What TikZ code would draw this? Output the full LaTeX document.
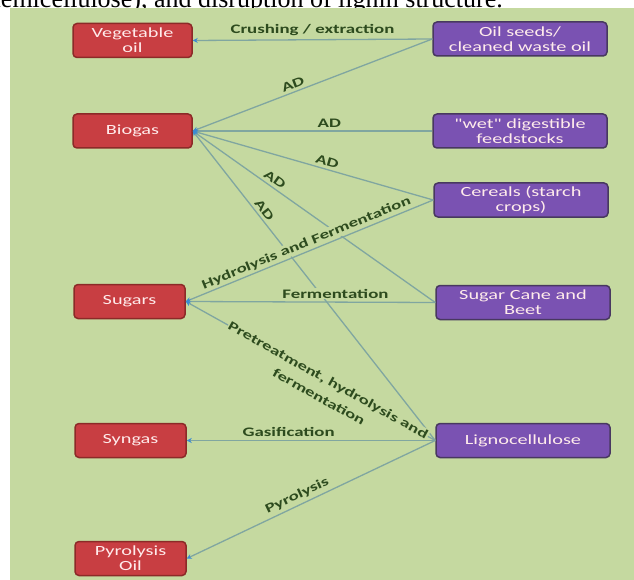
\documentclass[tikz,border=0pt]{standalone}
\usepackage{fontspec}
\setmainfont{Carlito}
\newfontfamily\widesans[FakeStretch=1.45]{Carlito}
\newfontfamily\papertext{Liberation Serif}
\usetikzlibrary{arrows.meta}

\definecolor{panelgreen}{RGB}{197,217,160}
\definecolor{prodred}{RGB}{200,62,66}
\definecolor{prodedge}{RGB}{140,42,40}
\definecolor{feedpurple}{RGB}{122,82,178}
\definecolor{feededge}{RGB}{72,56,96}
\definecolor{routeline}{RGB}{128,166,160}
\definecolor{routetext}{RGB}{45,75,30}
\definecolor{tipblue}{RGB}{60,140,210}

\begin{document}
\begin{tikzpicture}[x=1pt,y=-1pt,
  product/.style={draw=prodedge, line width=1.5pt, fill=prodred, rounded corners=4pt,
    text=white!92!red, font=\widesans\fontsize{14}{15}\selectfont, align=center,
    minimum height=34pt, inner sep=1pt},
  feed/.style={product, draw=feededge, fill=feedpurple, minimum width=174pt},
  route/.style={draw=routeline, line width=1.3pt, -{Stealth[length=5pt,width=5pt,color=tipblue]}},
  routelabel/.style={text=routetext, font=\widesans\fontsize{13}{16}\selectfont\bfseries,
    fill=panelgreen, inner sep=1pt, align=center}]
\useasboundingbox (0,0) rectangle (634,580);
% text of the page above the figure
\node[anchor=base east, inner sep=0pt, font=\papertext\fontsize{26}{28}\selectfont] (caption) at (503,7.5)
  {hemicellulose), and disruption of lignin structure.};
\fill[panelgreen] (10,8.5) rectangle (634,580);
% products
\node[product, minimum width=119pt] (vegoil) at (132.5,40.5) {Vegetable\\oil};
\node[product, minimum width=119pt] (biogas) at (132.5,131) {Biogas};
\node[product, minimum width=111pt] (sugars) at (129.5,301.5) {Sugars};
\node[product, minimum width=111pt] (syngas) at (130.5,440.5) {Syngas};
\node[product, minimum width=111pt] (pyroil) at (130.5,558.5) {Pyrolysis\\Oil};
% feedstocks
\node[feed] (oilseeds) at (520,39) {Oil seeds/\\cleaned waste oil};
\node[feed] (wetstock) at (520,131) {"wet" digestible\\feedstocks};
\node[feed] (cereals) at (521,200) {Cereals (starch\\crops)};
\node[feed] (cane) at (523,302.5) {Sugar Cane and\\Beet};
\node[feed] (ligno) at (523,440.5) {Lignocellulose};
% routes
\draw[route] (oilseeds.west) -- node[routelabel, above=2pt, pos=0.5] {Crushing / extraction} (vegoil.east);
\draw[route] (oilseeds.west) -- node[routelabel, sloped, above=2pt, pos=0.57] {AD} (biogas.east);
\draw[route] (wetstock.west) -- node[routelabel, above=2pt, pos=0.43] {AD} (biogas.east);
\draw[route] (cereals.west) -- node[routelabel, sloped, above=2pt, pos=0.45] {AD} (biogas.east);
\draw[route] (cane.west) -- node[routelabel, sloped, above=2pt, pos=0.68] {AD} (biogas.east);
\draw[route] (ligno.west) -- node[routelabel, sloped, above=2pt, pos=0.73] {AD} (biogas.east);
\draw[route] (cereals.west) -- node[routelabel, sloped, above=1pt, pos=0.5] {Hydrolysis and Fermentation} (sugars.east);
\draw[route] (cane.west) -- node[routelabel, above=2pt, pos=0.4] {Fermentation} (sugars.east);
\draw[route] (ligno.west) -- node[routelabel, sloped, below=-7pt, pos=0.43,
  font=\widesans\fontsize{13}{19}\selectfont\bfseries] {Pretreatment, hydrolysis and\\fermentation} (sugars.east);
\draw[route] (ligno.west) -- node[routelabel, above=2pt, pos=0.59] {Gasification} (syngas.east);
\draw[route] (ligno.west) -- node[routelabel, sloped, above=2pt, pos=0.54] {Pyrolysis} (pyroil.east);
\end{tikzpicture}
\end{document}
